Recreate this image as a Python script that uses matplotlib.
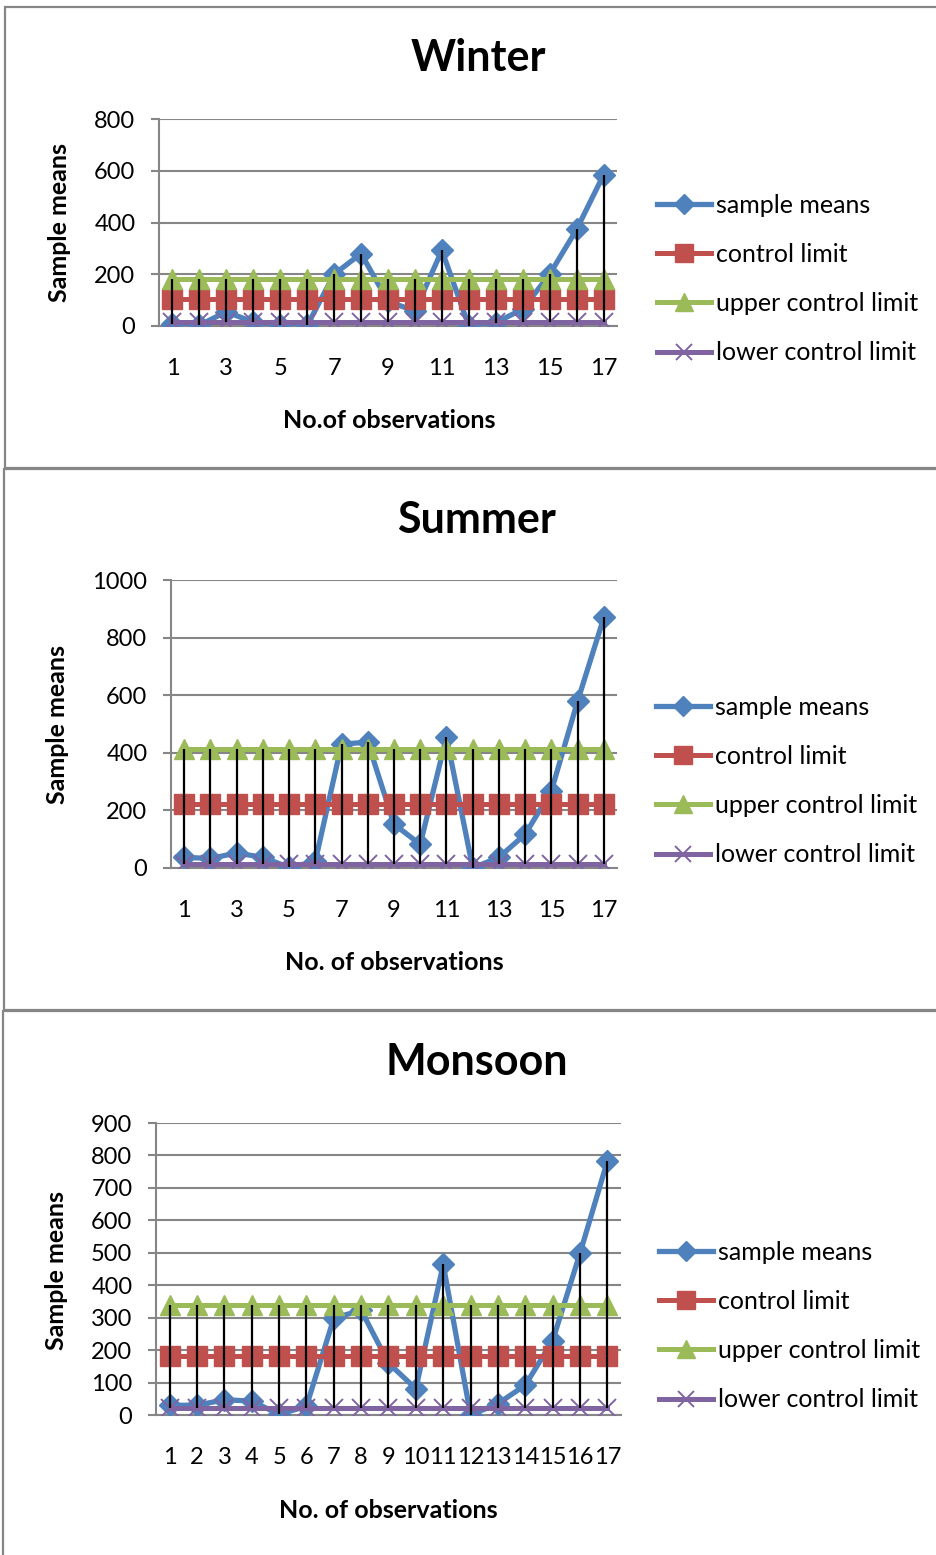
import matplotlib
matplotlib.use("Agg")
import matplotlib.pyplot as plt
from matplotlib.patches import Rectangle

plt.rcParams['font.family'] = ['Lato', 'DejaVu Sans']

observations = list(range(1, 18))

winter_means = [6, 3, 55, 15, 2, 2, 200, 280, 95, 58, 292, 0, 13, 65, 200, 373, 584]
winter_cl = 104
winter_ucl = 183
winter_lcl = 16

summer_means = [37, 33, 52, 37, 2, 23, 430, 437, 152, 82, 455, 0, 37, 117, 268, 580, 870]
summer_cl = 221
summer_ucl = 412
summer_lcl = 14

monsoon_means = [30, 30, 47, 43, 2, 27, 298, 323, 160, 81, 464, 0, 35, 92, 229, 498, 782]
monsoon_cl = 181
monsoon_ucl = 340
monsoon_lcl = 22

series_names = ["sample means", "control limit", "upper control limit", "lower control limit"]

W, H = 937, 1555
fig = plt.figure(figsize=(W / 100, H / 100), dpi=100)

BLUE = "#4F81BD"
RED = "#C0504D"
GREEN = "#9BBB59"
PURPLE = "#8064A2"
GRID = "#868686"


def px_axes(x0, y0, x1, y1):
    return fig.add_axes([x0 / W, (H - y1) / H, (x1 - x0) / W, (y1 - y0) / H])


def border(x0, y0, x1, y1):
    fig.patches.append(Rectangle((x0 / W, (H - y1) / H), (x1 - x0) / W, (y1 - y0) / H,
                                 transform=fig.transFigure, fill=False,
                                 edgecolor=GRID, linewidth=1.6))


panels = [
    dict(title="Winter", means=winter_means, cl=winter_cl, ucl=winter_ucl, lcl=winter_lcl,
         ymax=800, ystep=200, box=(159, 119, 617, 326), border=(5, 7, 960, 468),
         title_xy=(478, 58), xlabel="No.of observations", xlabel_xy=(389, 420),
         ylabel_xy=(60, 222), odd_only=True, legend_xy=(657, 279)),
    dict(title="Summer", means=summer_means, cl=summer_cl, ucl=summer_ucl, lcl=summer_lcl,
         ymax=1000, ystep=200, box=(171, 580, 617, 868), border=(4, 469, 960, 1010),
         title_xy=(476, 520), xlabel="No. of observations", xlabel_xy=(394, 963),
         ylabel_xy=(58, 724), odd_only=True, legend_xy=(656, 781)),
    dict(title="Monsoon", means=monsoon_means, cl=monsoon_cl, ucl=monsoon_ucl, lcl=monsoon_lcl,
         ymax=900, ystep=100, box=(156, 1123, 621, 1415), border=(3, 1011, 960, 1600),
         title_xy=(477, 1062), xlabel="No. of observations", xlabel_xy=(388, 1511),
         ylabel_xy=(57, 1270), odd_only=False, legend_xy=(659, 1326)),
]

for p in panels:
    border(*p["border"])
    ax = px_axes(*p["box"])
    n = len(observations)
    cl = [p["cl"]] * n
    ucl = [p["ucl"]] * n
    lcl = [p["lcl"]] * n
    h1, = ax.plot(observations, p["means"], color=BLUE, lw=3.8, marker="D", ms=11,
                  mfc=BLUE, mec=BLUE, zorder=3, label=series_names[0])
    h2, = ax.plot(observations, cl, color=RED, lw=3.6, marker="s", ms=14,
                  mfc=RED, mec=RED, zorder=4, label=series_names[1])
    h3, = ax.plot(observations, ucl, color=GREEN, lw=3.6, marker="^", ms=15,
                  mfc=GREEN, mec=GREEN, zorder=5, label=series_names[2])
    h4, = ax.plot(observations, lcl, color=PURPLE, lw=3.6, marker="x", ms=13, mew=1.4,
                  mec=PURPLE, zorder=6, label=series_names[3])
    highs = [max(a, b, c, d) for a, b, c, d in zip(p["means"], cl, ucl, lcl)]
    lows = [min(a, b, c, d) for a, b, c, d in zip(p["means"], cl, ucl, lcl)]
    ax.vlines(observations, lows, highs, colors="black", lw=1.6, zorder=7)

    ax.set_xlim(0.5, 17.5)
    ax.set_ylim(0, p["ymax"])
    yt = list(range(0, p["ymax"] + 1, p["ystep"]))
    ax.set_yticks(yt)
    ax.set_yticklabels([str(v) for v in yt])
    if p["odd_only"]:
        xt = observations[::2]
    else:
        xt = observations
    ax.set_xticks(xt)
    ax.set_xticklabels([str(v) for v in xt])
    ax.grid(axis="y", color=GRID, lw=1.5, zorder=0)
    ax.set_axisbelow(True)
    for s in ["top", "right"]:
        ax.spines[s].set_visible(False)
    ax.spines["left"].set_color(GRID)
    ax.spines["left"].set_linewidth(1.5)
    ax.spines["bottom"].set_color(GRID)
    ax.spines["bottom"].set_linewidth(1.5)
    ax.tick_params(axis="y", length=6, width=1.5, color=GRID, pad=11, labelsize=17)
    ax.tick_params(axis="x", length=0, pad=23, labelsize=17)
    for lab in ax.get_xticklabels() + ax.get_yticklabels():
        lab.set_color("black")

    fig.text(p["title_xy"][0] / W, 1 - p["title_xy"][1] / H, p["title"], ha="center",
             va="center", fontsize=31, fontweight="bold")
    fig.text(p["xlabel_xy"][0] / W, 1 - p["xlabel_xy"][1] / H, p["xlabel"], ha="center",
             va="center", fontsize=18, fontweight="bold")
    fig.text(p["ylabel_xy"][0] / W, 1 - p["ylabel_xy"][1] / H, "Sample means", ha="center",
             va="center", fontsize=18, fontweight="bold", rotation=90)

    leg = ax.legend(handles=[h1, h2, h3, h4], loc="center left",
                    bbox_to_anchor=(p["legend_xy"][0] / W, 1 - p["legend_xy"][1] / H),
                    bbox_transform=fig.transFigure, frameon=False, fontsize=18,
                    handlelength=2.15, handletextpad=0.2, labelspacing=1.05,
                    borderpad=0, borderaxespad=0)
    for lh in leg.get_lines():
        lh.set_markersize(lh.get_markersize() * 0.9)

fig.savefig("out.png", dpi=100)
